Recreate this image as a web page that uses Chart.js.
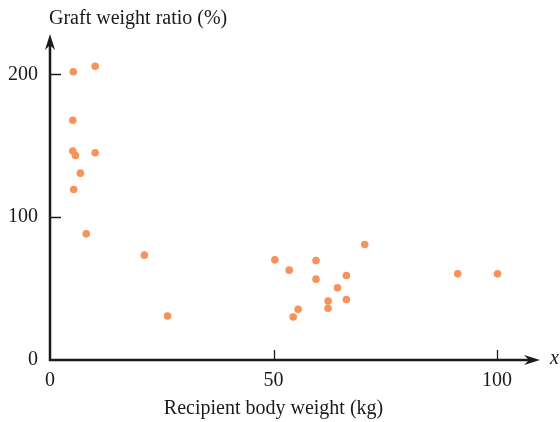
<!DOCTYPE html>
<html>
<head>
<meta charset="utf-8">
<script src="https://cdn.jsdelivr.net/npm/chart.js@4/dist/chart.umd.min.js"></script>
<style>
  html, body { margin: 0; padding: 0; background: #fff; }
  #wrap { width: 560px; height: 422px; }
</style>
</head>
<body>
<div id="wrap"><canvas id="scatterChart"></canvas></div>
<script>
// recipient body weight (kg) vs graft weight ratio (%)
const bodyWeight = [5.2, 10.1, 5.1, 5.1, 5.7, 10.1, 6.8, 5.3, 8.1, 21.1, 26.3,
  50.3, 53.5, 59.5, 59.5, 70.4, 66.3, 64.3, 62.2, 66.3, 62.2, 55.5, 54.4, 91.2, 100.1];
const graftRatio = [201.8, 205.6, 167.8, 146.3, 143.2, 145.1, 130.8, 119.4, 88.3, 73.4, 30.8,
  70.1, 62.9, 69.7, 56.6, 80.9, 59.1, 50.5, 41.3, 42.3, 36.2, 35.5, 30.1, 60.3, 60.3];
const xTicks = [0, 50, 100];
const yTicks = [0, 100, 200];

const FONT = { family: "'Liberation Serif', 'Times New Roman', serif", size: 20 };
const INK = '#1a1a1a';

// axis lines with arrowheads, inward tick marks and axis titles
const axesPlugin = {
  id: 'arrowAxes',
  afterDraw(chart) {
    const ctx = chart.ctx;
    const a = chart.chartArea;
    const xs = chart.scales.x, ys = chart.scales.y;
    const ox = xs.getPixelForValue(0), oy = ys.getPixelForValue(0);
    const topTip = a.top - 6;
    ctx.save();
    ctx.strokeStyle = INK;
    ctx.fillStyle = INK;

    ctx.lineWidth = 2.5;
    ctx.beginPath();
    ctx.moveTo(ox, oy);
    ctx.lineTo(a.right - 8, oy);
    ctx.moveTo(ox, oy + 1.2);
    ctx.lineTo(ox, topTip + 8);
    ctx.stroke();

    // arrowheads
    ctx.beginPath();
    ctx.moveTo(a.right, oy);
    ctx.lineTo(a.right - 16, oy - 5);
    ctx.lineTo(a.right - 11, oy);
    ctx.lineTo(a.right - 16, oy + 5);
    ctx.closePath();
    ctx.fill();
    ctx.beginPath();
    ctx.moveTo(ox, topTip);
    ctx.lineTo(ox - 5, topTip + 16);
    ctx.lineTo(ox, topTip + 11);
    ctx.lineTo(ox + 5, topTip + 16);
    ctx.closePath();
    ctx.fill();

    // tick marks
    ctx.lineWidth = 1.3;
    ctx.beginPath();
    xTicks.slice(1).forEach(v => {
      const px = Math.round(xs.getPixelForValue(v)) + 0.5;
      ctx.moveTo(px, oy);
      ctx.lineTo(px, oy - 10);
    });
    yTicks.slice(1).forEach(v => {
      const py = Math.round(ys.getPixelForValue(v)) + 0.5;
      ctx.moveTo(ox, py);
      ctx.lineTo(ox + 11, py);
    });
    ctx.stroke();

    // titles
    ctx.font = FONT.size + 'px ' + FONT.family;
    ctx.textBaseline = 'middle';
    ctx.textAlign = 'left';
    ctx.fillText('Graft weight ratio (%)', ox - 1, 19);
    ctx.textAlign = 'center';
    ctx.fillText('Recipient body weight (kg)', xs.getPixelForValue(50), 409);
    ctx.font = 'italic ' + FONT.size + 'px ' + FONT.family;
    ctx.textAlign = 'left';
    ctx.fillText('x', a.right + 10, oy - 1);
    ctx.restore();
  }
};

document.addEventListener('DOMContentLoaded', function() {
  const points = bodyWeight.map((w, i) => ({ x: w, y: graftRatio[i] }));
  const ctx = document.getElementById('scatterChart').getContext('2d');
  new Chart(ctx, {
    type: 'scatter',
    data: {
      datasets: [{
        data: points,
        backgroundColor: '#f7935a',
        borderWidth: 0,
        pointRadius: 3.8,
        pointHoverRadius: 3.8
      }]
    },
    options: {
      responsive: true,
      maintainAspectRatio: false,
      animation: false,
      layout: { padding: { top: 40, right: 20, left: 0, bottom: 0 } },
      plugins: { legend: { display: false }, tooltip: { enabled: false } },
      scales: {
        x: {
          type: 'linear', min: 0, max: 109.6,
          afterBuildTicks: s => { s.ticks = xTicks.map(v => ({ value: v })); },
          afterFit: s => { s.height = 62; },
          grid: { display: false, drawTicks: false },
          border: { display: false },
          ticks: { color: INK, font: FONT, padding: 9, maxRotation: 0 }
        },
        y: {
          type: 'linear', min: 0, max: 224,
          afterBuildTicks: s => { s.ticks = yTicks.map(v => ({ value: v })); },
          afterFit: s => { s.width = 50; },
          grid: { display: false, drawTicks: false },
          border: { display: false },
          ticks: { color: INK, font: FONT, padding: 12 }
        }
      }
    },
    plugins: [axesPlugin]
  });
});
</script>
</body>
</html>
